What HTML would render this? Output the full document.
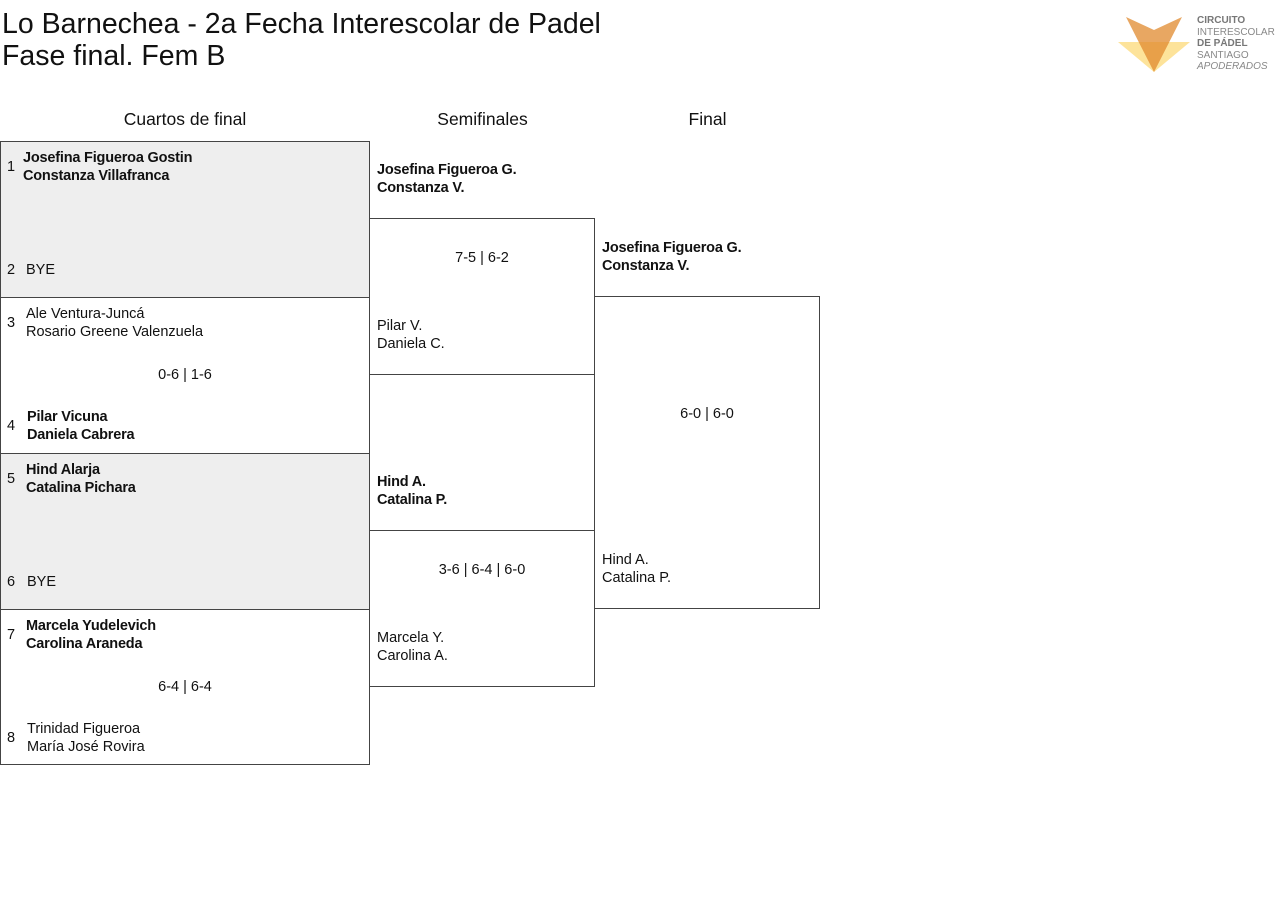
<!DOCTYPE html>
<html><head><meta charset="utf-8"><style>
body{margin:0;width:1280px;height:916px;background:#fff;font-family:"Liberation Sans",sans-serif;color:#111;position:relative;overflow:hidden}
.a{position:absolute;white-space:nowrap}
.t{font-size:14.5px;line-height:18px}
.b{font-weight:bold;letter-spacing:-0.2px}
.box{position:absolute;border:1px solid #444;box-sizing:border-box}
.g{background:#eeeeee}
.h{font-size:17.5px;text-align:center}
.n{font-size:14.5px}
</style></head><body>
<div class="a" style="left:2px;top:8px;font-size:28.5px;line-height:32px">Lo Barnechea - 2a Fecha Interescolar de Padel<br>Fase final. Fem B</div>

<svg class="a" style="left:1118px;top:16px" width="74" height="58" viewBox="0 0 74 58">
<polygon points="0,26 72,26 36,56" fill="#fde08f" opacity="0.9"/>
<polygon points="8,1 36,14 64,1 36,56" fill="#e08a2e" opacity="0.75"/>
</svg>
<div class="a" style="left:1197px;top:15px;font-size:10px;line-height:11.5px;color:#888">
<b style="color:#777">CIRCUITO</b><br>INTERESCOLAR<br><b style="color:#777">DE PÁDEL</b><br>SANTIAGO<br><i>APODERADOS</i></div>

<div class="a h" style="left:0;width:370px;top:109px">Cuartos de final</div>
<div class="a h" style="left:370px;width:225px;top:109px">Semifinales</div>
<div class="a h" style="left:595px;width:225px;top:109px">Final</div>

<div class="box g" style="left:0;top:141px;width:370px;height:157px"></div>
<div class="box" style="left:0;top:297px;width:370px;height:157px"></div>
<div class="box g" style="left:0;top:453px;width:370px;height:157px"></div>
<div class="box" style="left:0;top:609px;width:370px;height:156px"></div>
<div class="box" style="left:369px;top:218px;width:226px;height:157px"></div>
<div class="box" style="left:369px;top:530px;width:226px;height:157px"></div>
<div class="box" style="left:594px;top:296px;width:226px;height:313px"></div>

<div class="a n" style="left:7px;top:159px">1</div>
<div class="a t b" style="left:23px;top:149px">Josefina Figueroa Gostin<br>Constanza Villafranca</div>
<div class="a n" style="left:7px;top:262px">2</div>
<div class="a t" style="left:26px;top:261px">BYE</div>

<div class="a n" style="left:7px;top:315px">3</div>
<div class="a t" style="left:26px;top:305px">Ale Ventura-Juncá<br>Rosario Greene Valenzuela</div>
<div class="a t" style="left:0;width:370px;text-align:center;top:366px">0-6 | 1-6</div>
<div class="a n" style="left:7px;top:418px">4</div>
<div class="a t b" style="left:27px;top:408px">Pilar Vicuna<br>Daniela Cabrera</div>

<div class="a n" style="left:7px;top:471px">5</div>
<div class="a t b" style="left:26px;top:461px">Hind Alarja<br>Catalina Pichara</div>
<div class="a n" style="left:7px;top:574px">6</div>
<div class="a t" style="left:27px;top:573px">BYE</div>

<div class="a n" style="left:7px;top:627px">7</div>
<div class="a t b" style="left:26px;top:617px">Marcela Yudelevich<br>Carolina Araneda</div>
<div class="a t" style="left:0;width:370px;text-align:center;top:678px">6-4 | 6-4</div>
<div class="a n" style="left:7px;top:730px">8</div>
<div class="a t" style="left:27px;top:720px">Trinidad Figueroa<br>María José Rovira</div>

<div class="a t b" style="left:377px;top:161px">Josefina Figueroa G.<br>Constanza V.</div>
<div class="a t" style="left:369px;width:226px;text-align:center;top:249px">7-5 | 6-2</div>
<div class="a t" style="left:377px;top:317px">Pilar V.<br>Daniela C.</div>

<div class="a t b" style="left:377px;top:473px">Hind A.<br>Catalina P.</div>
<div class="a t" style="left:369px;width:226px;text-align:center;top:561px">3-6 | 6-4 | 6-0</div>
<div class="a t" style="left:377px;top:629px">Marcela Y.<br>Carolina A.</div>

<div class="a t b" style="left:602px;top:239px">Josefina Figueroa G.<br>Constanza V.</div>
<div class="a t" style="left:594px;width:226px;text-align:center;top:405px">6-0 | 6-0</div>
<div class="a t" style="left:602px;top:551px">Hind A.<br>Catalina P.</div>
</body></html>
